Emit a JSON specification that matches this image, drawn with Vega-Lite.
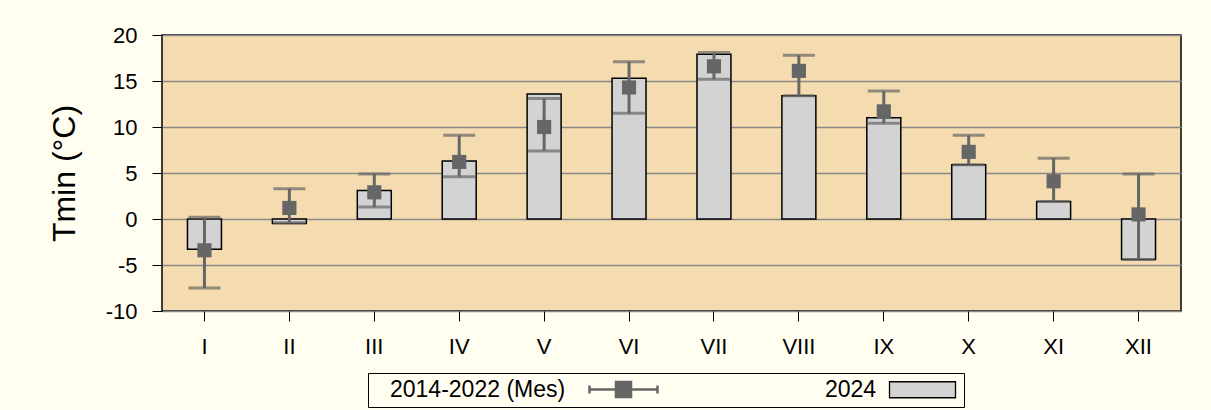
{
  "$schema": "https://vega.github.io/schema/vega-lite/v6.json",
  "width": 1019,
  "height": 276,
  "autosize": {"type": "none"},
  "padding": {"left": 162, "top": 35, "right": 30, "bottom": 99},
  "background": "#FFFEF0",
  "config": {
    "font": "Liberation Sans",
    "view": {"fill": "#F4DCB0", "stroke": "#000000", "strokeWidth": 1.5}
  },
  "data": {
    "values": [
      {"month": "I", "v2024": -3.3, "mean": -3.4, "lo": -7.5, "hi": 0.2},
      {"month": "II", "v2024": -0.5, "mean": 1.2, "lo": -0.4, "hi": 3.3},
      {"month": "III", "v2024": 3.1, "mean": 2.9, "lo": 1.3, "hi": 4.9},
      {"month": "IV", "v2024": 6.3, "mean": 6.2, "lo": 4.6, "hi": 9.1},
      {"month": "V", "v2024": 13.6, "mean": 10.0, "lo": 7.4, "hi": 13.1},
      {"month": "VI", "v2024": 15.3, "mean": 14.3, "lo": 11.5, "hi": 17.1},
      {"month": "VII", "v2024": 17.9, "mean": 16.6, "lo": 15.2, "hi": 18.1},
      {"month": "VIII", "v2024": 13.4, "mean": 16.1, "lo": 13.4, "hi": 17.8},
      {"month": "IX", "v2024": 11.0, "mean": 11.7, "lo": 10.4, "hi": 13.9},
      {"month": "X", "v2024": 5.9, "mean": 7.3, "lo": 5.9, "hi": 9.1},
      {"month": "XI", "v2024": 1.9, "mean": 4.1, "lo": 1.9, "hi": 6.6},
      {"month": "XII", "v2024": -4.4, "mean": 0.5, "lo": -4.4, "hi": 4.9}
    ]
  },
  "encoding": {
    "x": {
      "field": "month", "type": "ordinal", "sort": null,
      "scale": {"paddingInner": 0.6, "paddingOuter": 0.3},
      "axis": {
        "title": null, "labelAngle": 0, "labelFontSize": 22, "labelColor": "#000000",
        "tickSize": 10, "tickColor": "#000000", "labelPadding": 15, "domain": false, "grid": false
      }
    }
  },
  "layer": [
    {
      "mark": {"type": "bar"},
      "encoding": {
        "y": {
          "field": "v2024", "type": "quantitative", "title": "Tmin (°C)",
          "scale": {"domain": [-10, 20], "nice": false, "zero": false},
          "axis": {
            "title": "Tmin (°C)", "titleFontSize": 32, "titleFontWeight": "normal", "titleColor": "#000000", "titlePadding": 24,
            "values": [-10, -5, 0, 5, 10, 15, 20], "labelExpr": "'' + datum.value", "labelFontSize": 22, "labelColor": "#000000",
            "tickSize": 10, "tickColor": "#000000", "labelPadding": 15, "domain": false,
            "grid": true, "gridColor": "#888888", "gridWidth": 1.3
          }
        },
        "fill": {
          "datum": "2024", "type": "nominal",
          "scale": {"domain": ["2014-2022 (Mes)", "2024"], "range": ["#666666", "#D3D3D3"]},
          "legend": {
            "title": null, "orient": "none", "legendX": 206, "legendY": 338, "direction": "horizontal",
            "strokeColor": "#000000", "fillColor": "#FFFEF0", "padding": 5,
            "symbolSize": 400, "labelAlign": "left", "labelOffset": -6, "labelLimit": 400,
            "labelFontSize": 23, "labelColor": "#000000", "columnPadding": 145,
            "symbolType": {"expr": "datum.value === '2024' ? 'M7,-0.8H13.6V0.8H7Z' : 'M20.5,0H27.3M20.5,-0.4V0.4M27.3,-0.4V0.4M23.15,-0.75H24.65V0.75H23.15Z'"},
            "symbolStrokeColor": {"expr": "datum.value === '2024' ? '#000000' : '#666666'"},
            "symbolStrokeWidth": {"expr": "datum.value === '2024' ? 1.3 : 2.5"},
            "symbolOpacity": 1
          }
        },
        "stroke": {"value": "#000000"},
        "strokeWidth": {"value": 1.5}
      }
    },
    {
      "mark": {"type": "rule", "color": "#666666", "strokeWidth": 3},
      "encoding": {
        "y": {"field": "lo", "type": "quantitative", "title": "Tmin (°C)"},
        "y2": {"field": "hi"}
      }
    },
    {
      "mark": {"type": "tick", "color": "#666666", "thickness": 3, "size": 32},
      "encoding": {"y": {"field": "lo", "type": "quantitative", "title": "Tmin (°C)"}}
    },
    {
      "mark": {"type": "tick", "color": "#666666", "thickness": 3, "size": 32},
      "encoding": {"y": {"field": "hi", "type": "quantitative", "title": "Tmin (°C)"}}
    },
    {
      "mark": {"type": "point", "shape": "square", "size": 200, "filled": true, "opacity": 1, "color": "#666666", "strokeWidth": 1.5, "strokeJoin": "round"},
      "encoding": {
        "y": {"field": "mean", "type": "quantitative", "title": "Tmin (°C)"}
      }
    }
  ]
}
